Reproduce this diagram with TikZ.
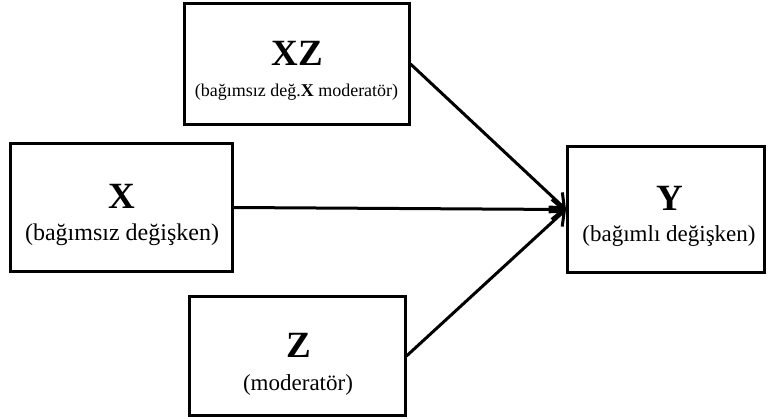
\documentclass[tikz,border=0pt]{standalone}
\usepackage{fontspec}
\setmainfont{Liberation Serif}
\usetikzlibrary{arrows.meta}
\begin{document}
\begin{tikzpicture}[x=1pt,y=-1pt,
  box/.style={draw,line width=3pt,inner sep=0pt},
  ttl/.style={font=\fontsize{37}{37}\selectfont\bfseries,inner sep=0pt,anchor=base},
  subt/.style={font=\fontsize{23}{23}\selectfont,inner sep=0pt,anchor=base},
  conn/.style={line width=3pt,-{Straight Barb[length=12pt,width=20pt,line width=3pt]}}]
\useasboundingbox (0,0) rectangle (768,418);
\node[box,minimum width=225pt,minimum height=121pt] (xz) at (296.5,64) {};
\node[box,minimum width=222pt,minimum height=128pt] (x) at (121.5,207.5) {};
\node[box,minimum width=216pt,minimum height=119pt] (z) at (297,356) {};
\node[box,minimum width=197pt,minimum height=126pt] (y) at (666,209.5) {};
\node[ttl] (xzt) at (297,65) {XZ};
\node[subt,font=\fontsize{18}{18}\selectfont] (xzs) at (296.5,96) {(bağımsız değ.\textbf{X} moderatör)};
\node[ttl] (xt) at (122,208) {X};
\node[subt,font=\fontsize{24}{24}\selectfont] (xs) at (122,240) {(bağımsız değişken)};
\node[ttl] (zt) at (299,357) {Z};
\node[subt] (zs) at (298,390) {(moderatör)};
\node[ttl] (yt) at (670,210) {Y};
\node[subt] (ys) at (669,241) {(bağımlı değişken)};
\draw[conn] (xz.east) -- (y.west);
\draw[conn] (x.east) -- (y.west);
\draw[conn] (z.east) -- (y.west);
\end{tikzpicture}
\end{document}
